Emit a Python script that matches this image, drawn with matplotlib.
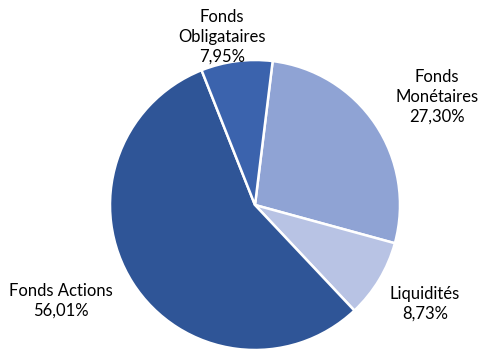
import matplotlib.pyplot as plt

# répartition du portefeuille
categories = ["Fonds Monétaires", "Liquidités", "Fonds Actions", "Fonds Obligataires"]
parts = [27.30, 8.73, 56.01, 7.95]
label_lines = [["Fonds", "Monétaires"], ["Liquidités"], ["Fonds Actions"], ["Fonds", "Obligataires"]]
colors = ["#8FA3D4", "#B8C3E4", "#2F5597", "#3B63AD"]

W, H = 480, 351
fig = plt.figure(figsize=(W / 100, H / 100), dpi=100)
ax = fig.add_axes([0, 0, 1, 1])

cx, cy, r = 255, H - 205, 145
ax.pie(parts, colors=colors, startangle=83, counterclock=False,
       center=(cx, cy), radius=r, frame=True,
       wedgeprops=dict(edgecolor="white", linewidth=1.8))
ax.set_xlim(0, W)
ax.set_ylim(0, H)
ax.set_aspect("equal")
ax.axis("off")

# positions des étiquettes (centre du bloc de texte, en pixels)
label_pos = [(437, 97), (425, 304), (61, 301), (222, 37)]
for lines, p, (x, y) in zip(label_lines, parts, label_pos):
    txt = "\n".join(lines + [f"{p:.2f}%".replace(".", ",")])
    ax.text(x, H - y, txt, ha="center", va="center", fontsize=12,
            family="Lato", color="#000000", linespacing=1.3)

fig.savefig("out.png", dpi=100)
